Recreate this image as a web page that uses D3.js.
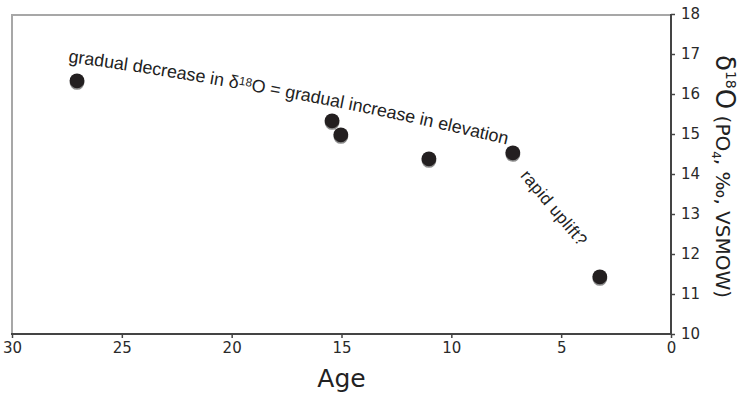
<!DOCTYPE html>
<html>
<head>
<meta charset="utf-8">
<script src="https://cdn.jsdelivr.net/npm/d3@7"></script>
<style>
  html, body { margin: 0; padding: 0; background: #fff; }
  svg { display: block; }
</style>
</head>
<body>
<svg id="chart" width="748" height="398"></svg>
<script>
// Age (Ma) and oxygen isotope values of phosphate samples
const ages = [27.04, 15.43, 15.03, 11.02, 7.2, 3.24];
const d18O = [16.33, 15.33, 14.98, 14.38, 14.53, 11.43];

const xTicks = [30, 25, 20, 15, 10, 5, 0];
const yTicks = [10, 11, 12, 13, 14, 15, 16, 17, 18];

const svg = d3.select("#chart");
const plotLeft = 12, plotRight = 671, plotTop = 14, plotBottom = 334;

const x = d3.scaleLinear().domain([30, 0]).range([plotLeft, plotRight]);
const y = d3.scaleLinear().domain([10, 18]).range([plotBottom, plotTop]);

const tickFont = "'DejaVu Sans', sans-serif";
const noteFont = "'Liberation Sans', Arial, Helvetica, sans-serif";

// light frame on top and left
svg.append("path")
  .attr("d", `M${plotLeft},${plotBottom} L${plotLeft},${plotTop + 1} L${plotRight},${plotTop + 1}`)
  .attr("fill", "none")
  .attr("stroke", "#a7a7a7")
  .attr("stroke-width", 2);

// bottom axis
const xAxis = svg.append("g")
  .attr("transform", `translate(0,${plotBottom})`)
  .call(d3.axisBottom(x).tickValues(xTicks).tickSize(4).tickPadding(4).tickFormat(d3.format("d")));
xAxis.select(".domain").attr("stroke", "#444").attr("stroke-width", 2).attr("d", `M${plotLeft - 1},0H${plotRight + 1}`);
xAxis.selectAll(".tick line").attr("stroke", "#444").attr("stroke-width", 1.5);
xAxis.selectAll(".tick text").attr("font-family", tickFont).attr("font-size", 15).attr("fill", "#2a2a2a");

// right axis
const yAxis = svg.append("g")
  .attr("transform", `translate(${plotRight},0)`)
  .call(d3.axisRight(y).tickValues(yTicks).tickSize(4).tickPadding(6).tickFormat(d3.format("d")));
yAxis.select(".domain").attr("stroke", "#444").attr("stroke-width", 2).attr("d", `M0,${plotTop}V${plotBottom + 1}`);
yAxis.selectAll(".tick line").attr("stroke", "#444").attr("stroke-width", 1.5);
yAxis.selectAll(".tick text").attr("font-family", tickFont).attr("font-size", 15).attr("fill", "#2a2a2a");

// x axis title
svg.append("text")
  .attr("x", x(15))
  .attr("y", 387)
  .attr("text-anchor", "middle")
  .attr("font-family", tickFont)
  .attr("font-size", 25)
  .attr("fill", "#222")
  .text("Age");

// right axis title, reading downward
const yTitle = svg.append("text")
  .attr("transform", `translate(716,55) rotate(90)`)
  .attr("font-family", tickFont)
  .attr("fill", "#222");
yTitle.append("tspan").attr("font-size", 26).text("δ");
yTitle.append("tspan").attr("font-size", 14).attr("dy", -10).text("18");
yTitle.append("tspan").attr("font-size", 26).attr("dy", 10).text("O");
yTitle.append("tspan").attr("font-size", 20).text(" (PO");
yTitle.append("tspan").attr("font-size", 12).attr("dy", 4).text("4");
yTitle.append("tspan").attr("font-size", 20).attr("dy", -4).text(", ‰, VSMOW)");

// data points with a soft drop shadow
const pts = ages.map((a, i) => ({ age: a, v: d18O[i] }));
svg.append("g").selectAll("circle")
  .data(pts).join("circle")
  .attr("cx", d => x(d.age))
  .attr("cy", d => y(d.v) + 1.6)
  .attr("r", 7.4)
  .attr("fill", "#8a8a8a");
svg.append("g").selectAll("circle")
  .data(pts).join("circle")
  .attr("cx", d => x(d.age))
  .attr("cy", d => y(d.v))
  .attr("r", 7.4)
  .attr("fill", "#231f20");

// curved annotation above the gradual trend
const arc = d3.path();
arc.moveTo(x(27.45), y(16.8));
arc.quadraticCurveTo(x(17.4), y(16.04), x(7.38), y(14.725));
const curve = svg.append("path")
  .attr("id", "trendArc")
  .attr("d", arc.toString())
  .attr("fill", "none")
  .attr("stroke", "none");
const arcLen = curve.node().getTotalLength();

const note = svg.append("text")
  .attr("font-family", noteFont)
  .attr("font-size", 15)
  .attr("fill", "#222");
const tp = note.append("textPath")
  .attr("href", "#trendArc");
tp.append("tspan").text("gradual decrease in δ");
tp.append("tspan").attr("font-size", "0.66em").attr("dy", "-0.35em").text("18");
tp.append("tspan").attr("dy", "0.23em").text("O = gradual increase in elevation");
// size the annotation so it runs the length of the arc
const natural = note.node().getComputedTextLength();
const fs = 15 * (arcLen - 2) / natural;
note.attr("font-size", fs);

// steep drop annotation
svg.append("text")
  .attr("transform", `translate(${x(6.88)},${y(13.95)}) rotate(50)`)
  .attr("font-family", noteFont)
  .attr("font-size", 17)
  .attr("letter-spacing", 0.4)
  .attr("fill", "#222")
  .text("rapid uplift?");
</script>
</body>
</html>
